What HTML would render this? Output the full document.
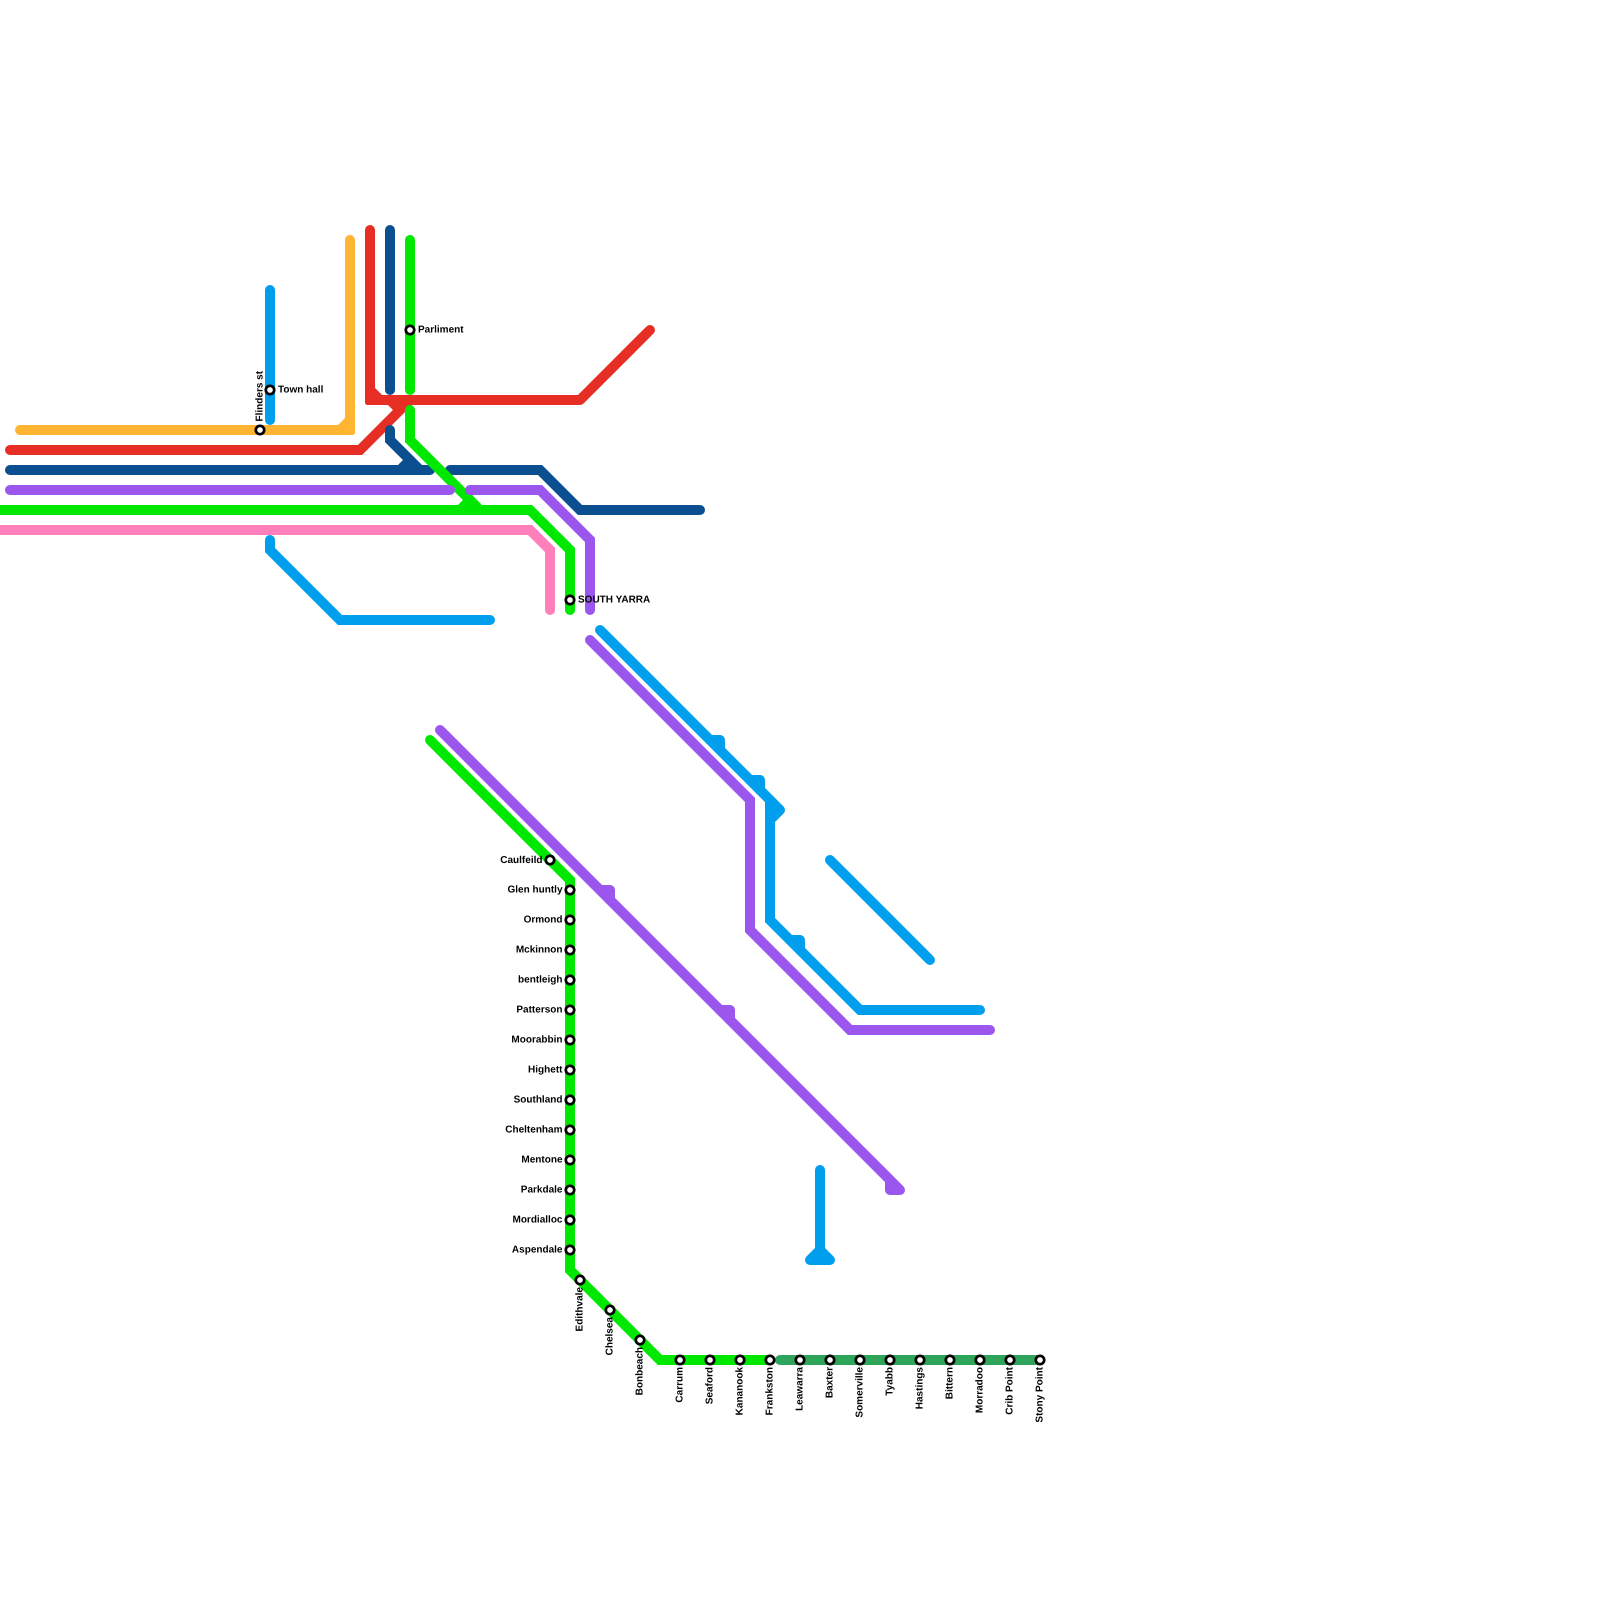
<!DOCTYPE html>
<html><head><meta charset="utf-8"><style>
html,body{margin:0;padding:0;background:#fff}
svg{display:block}
text{font-family:"Liberation Sans",sans-serif;font-weight:bold;font-size:10px;fill:#000;text-rendering:geometricPrecision}
.l path{fill:none;stroke-width:10;stroke-linecap:round;stroke-linejoin:miter}
.l path.r{stroke-linejoin:round}
.s circle{fill:#fff;stroke:#000;stroke-width:2.7}
</style></head><body>
<svg width="1600" height="1600" viewBox="0 0 1600 1600" xmlns="http://www.w3.org/2000/svg">
<g class="l">
<g stroke="#ffb531" fill="#ffb531"><path class="r" d="M20 430H350V240"/><path d="M340 430L350 420"/><rect x="345" y="425" width="10" height="10" rx="2.500" stroke="none"/></g>
<g stroke="#009fee"><path d="M270 290V420"/><path d="M270 540V550L340 620H490"/></g>
<g stroke="#e62e24" fill="#e62e24"><path class="r" d="M370 230V400H580L650 330"/><path d="M10 450H360L410 400"/><path d="M370 390L380 400"/><path d="M390 400L400 410"/><rect x="365" y="395" width="10" height="10" rx="2.500" stroke="none"/></g>
<g stroke="#0b4f91"><path d="M390 230V390"/><path d="M390 430V440L420 470"/><path d="M400 470L410 460"/><path d="M10 470H430"/><path d="M450 470H540L580 510H700"/></g>
<g stroke="#00e700"><path d="M410 240V390"/><path d="M410 410V440L480 510"/><path d="M460 510L470 500"/><path d="M-10 510H530L570 550V610"/><path d="M430 740L570 880V1270L660 1360H770"/></g>
<g stroke="#9b56ee"><path d="M10 490H450"/><path d="M470 490H540L590 540V610"/><path d="M590 640L750 800V930L850 1030H990"/><path class="r" d="M440 730L900 1190H890V1180"/><path class="r" d="M600 890H610V900"/><path class="r" d="M720 1010H730V1020"/></g>
<g stroke="#ff7fba"><path d="M-10 530H530L550 550V610"/></g>
<g stroke="#009fee"><path class="r" d="M600 630L780 810L770 820"/><path class="r" d="M710 740H720V750"/><path class="r" d="M750 780H760V790"/><path d="M770 800V920L860 1010H980"/><path class="r" d="M790 940H800V950"/><path d="M830 860L930 960"/><path d="M820 1170V1260"/><path class="r" d="M810 1260H830L820 1250Z"/></g>
<g stroke="#2fa55c"><path d="M780 1360H1040"/></g>
</g>
<g class="s">
<circle cx="260" cy="430" r="4.200"/><circle cx="270" cy="390" r="4.200"/><circle cx="410" cy="330" r="4.200"/><circle cx="570" cy="600" r="4.200"/>
<circle cx="550" cy="860" r="4.200"/><circle cx="570" cy="890" r="4.200"/><circle cx="570" cy="920" r="4.200"/><circle cx="570" cy="950" r="4.200"/><circle cx="570" cy="980" r="4.200"/><circle cx="570" cy="1010" r="4.200"/><circle cx="570" cy="1040" r="4.200"/><circle cx="570" cy="1070" r="4.200"/><circle cx="570" cy="1100" r="4.200"/><circle cx="570" cy="1130" r="4.200"/><circle cx="570" cy="1160" r="4.200"/><circle cx="570" cy="1190" r="4.200"/><circle cx="570" cy="1220" r="4.200"/><circle cx="570" cy="1250" r="4.200"/>
<circle cx="580" cy="1280" r="4.200"/><circle cx="610" cy="1310" r="4.200"/><circle cx="640" cy="1340" r="4.200"/>
<circle cx="680" cy="1360" r="4.200"/><circle cx="710" cy="1360" r="4.200"/><circle cx="740" cy="1360" r="4.200"/><circle cx="770" cy="1360" r="4.200"/><circle cx="800" cy="1360" r="4.200"/><circle cx="830" cy="1360" r="4.200"/><circle cx="860" cy="1360" r="4.200"/><circle cx="890" cy="1360" r="4.200"/><circle cx="920" cy="1360" r="4.200"/><circle cx="950" cy="1360" r="4.200"/><circle cx="980" cy="1360" r="4.200"/><circle cx="1010" cy="1360" r="4.200"/><circle cx="1040" cy="1360" r="4.200"/>
</g>
<g>
<text x="278" y="392.500">Town hall</text>
<text x="418" y="332.500">Parliment</text>
<text x="578" y="602.500">SOUTH YARRA</text>
<text transform="translate(262.500 421.500) rotate(-90)">Flinders st</text>
</g>
<g text-anchor="end">
<text x="542.500" y="863">Caulfeild</text>
<text x="562.500" y="892.500">Glen huntly</text>
<text x="562.500" y="922.500">Ormond</text>
<text x="562.500" y="952.500">Mckinnon</text>
<text x="562.500" y="982.500">bentleigh</text>
<text x="562.500" y="1012.500">Patterson</text>
<text x="562.500" y="1042.500">Moorabbin</text>
<text x="562.500" y="1072.500">Highett</text>
<text x="562.500" y="1102.500">Southland</text>
<text x="562.500" y="1132.500">Cheltenham</text>
<text x="562.500" y="1162.500">Mentone</text>
<text x="562.500" y="1192.500">Parkdale</text>
<text x="562.500" y="1222.500">Mordialloc</text>
<text x="562.500" y="1252.500">Aspendale</text>
<text transform="translate(582.500 1287) rotate(-90)">Edithvale</text>
<text transform="translate(612.500 1317) rotate(-90)">Chelsea</text>
<text transform="translate(642.500 1347) rotate(-90)">Bonbeach</text>
<text transform="translate(682.500 1367) rotate(-90)">Carrum</text>
<text transform="translate(712.500 1367) rotate(-90)">Seaford</text>
<text transform="translate(742.500 1367) rotate(-90)">Kananook</text>
<text transform="translate(772.500 1367) rotate(-90)">Frankston</text>
<text transform="translate(802.500 1367) rotate(-90)">Leawarra</text>
<text transform="translate(832.500 1367) rotate(-90)">Baxter</text>
<text transform="translate(862.500 1367) rotate(-90)">Somerville</text>
<text transform="translate(892.500 1367) rotate(-90)">Tyabb</text>
<text transform="translate(922.500 1367) rotate(-90)">Hastings</text>
<text transform="translate(952.500 1367) rotate(-90)">Bittern</text>
<text transform="translate(982.500 1367) rotate(-90)">Morradoo</text>
<text transform="translate(1012.500 1367) rotate(-90)">Crib Point</text>
<text transform="translate(1042.500 1367) rotate(-90)">Stony Point</text>
</g>
</svg>
</body></html>
